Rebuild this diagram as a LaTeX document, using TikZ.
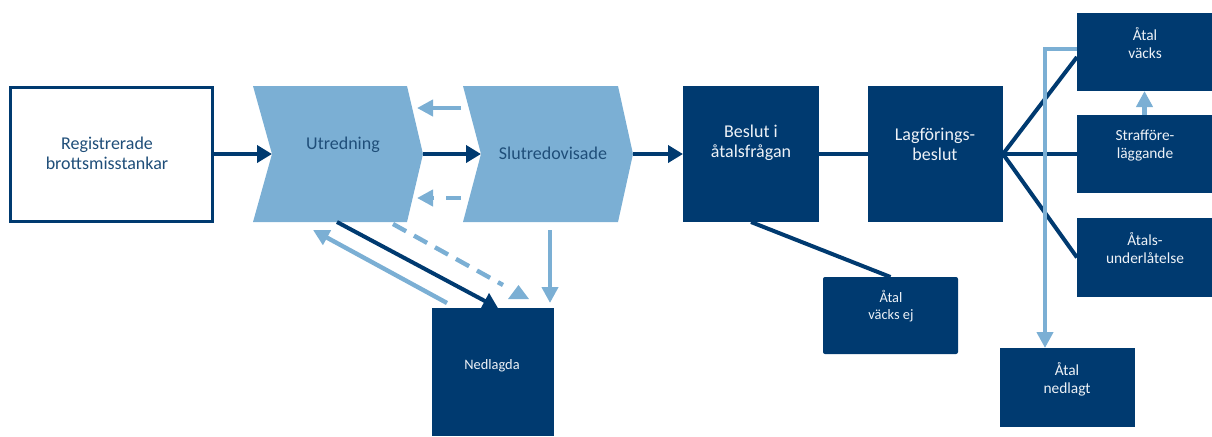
\documentclass[tikz,border=0pt]{standalone}
\usepackage{fontspec}
\setmainfont{Carlito}
\usetikzlibrary{arrows.meta}
\definecolor{dkblue}{HTML}{003A70}
\definecolor{ltblue}{HTML}{7BAFD4}
\definecolor{txtblue}{HTML}{1F4E79}
\definecolor{offwhite}{HTML}{EEF2F7}
\begin{document}
\begin{tikzpicture}[x=0.5pt,y=-0.5pt,
  dbox/.style={fill=dkblue, draw=none, inner sep=0pt, outer sep=0pt, anchor=north west},
  bigtext/.style={align=center, inner sep=0pt, font=\fontsize{9}{10}\selectfont},
  smalltext/.style={align=center, inner sep=0pt, font=\fontsize{7.7}{9}\selectfont, text=offwhite},
  tinytext/.style={align=center, inner sep=0pt, font=\fontsize{7.2}{8.6}\selectfont, text=offwhite},
  dline/.style={draw=dkblue, line width=2pt},
  darrow/.style={dline, -{Triangle[length=7.5pt,width=8.5pt]}},
  lline/.style={draw=ltblue, line width=2.2pt},
  larrow/.style={lline, -{Triangle[length=8pt,width=8pt]}},
  chev/.style={fill=ltblue}
]
\useasboundingbox (0,0) rectangle (1212,436);

% boxes
\node[draw=dkblue, line width=1.5pt, fill=white, inner sep=0pt, outer sep=0pt, anchor=north west,
      minimum width=101pt, minimum height=67pt] (reg) at (10.5,87) {};
\node[dbox, minimum width=68pt, minimum height=68pt] (beslut) at (683,86) {};
\node[dbox, minimum width=67.5pt, minimum height=68pt] (lagf) at (868,86) {};
\node[dbox, rounded corners=1pt, minimum width=67.5pt, minimum height=38.5pt] (vej) at (823,277) {};
\node[dbox, minimum width=61pt, minimum height=64pt] (nedl) at (432,308) {};
\node[dbox, minimum width=67.5pt, minimum height=39pt] (av) at (1077,13) {};
\node[dbox, minimum width=67.5pt, minimum height=39pt] (straff) at (1077,115) {};
\node[dbox, minimum width=67.5pt, minimum height=39.5pt] (aul) at (1077,218) {};
\node[dbox, minimum width=67.5pt, minimum height=39.5pt] (anl) at (1000,348) {};

% chevrons
\fill[chev] (253,86) -- (407,86) -- (423,154) -- (407,222) -- (253,222) -- (272,154) -- cycle;
\fill[chev] (463,86) -- (618,86) -- (633,154) -- (618,222) -- (463,222) -- (481,154) -- cycle;
\coordinate (utrL) at (272,154);
\coordinate (utrR) at (423,154);
\coordinate (sluL) at (481,154);
\coordinate (sluR) at (633,154);

% texts
\node[bigtext, text=txtblue] (treg) at (107,153) {Registrerade\\brottsmisstankar};
\node[bigtext, text=txtblue] (tutr) at (343,145) {Utredning};
\node[bigtext, text=txtblue] (tslu) at (553,153) {Slutredovisade};
\node[bigtext, text=offwhite] (tbes) at (751,143) {Beslut i\\åtalsfrågan};
\node[bigtext, text=offwhite] (tlag) at (935,144) {Lagförings-\\beslut};
\node[tinytext] (tvej) at (891,306.5) {Åtal\\väcks ej};
\node[tinytext] (tned) at (492,366) {Nedlagda};
\node[smalltext] (tav) at (1145,43) {Åtal\\väcks};
\node[smalltext] (tstr) at (1145,145.5) {Strafföre-\\läggande};
\node[smalltext] (taul) at (1145,248.5) {Åtals-\\underlåtelse};
\node[smalltext] (tanl) at (1067,379) {Åtal\\nedlagt};

% main flow
\draw[darrow] (reg.east) -- (utrL);
\draw[darrow] (utrR) -- (sluL);
\draw[darrow] (sluR) -- (beslut.west);
\draw[dline] (beslut.east) -- (lagf.west);
\draw[dline] (beslut.south) -- (vej.north);
\draw[dline] (lagf.east) -- ([yshift=-2.5pt]av.west);
\draw[dline] (lagf.east) -- (straff.west);
\draw[dline] (lagf.east) -- (aul.west);

% back arrows between chevrons
\coordinate (b1s) at (461,108);
\coordinate (b1e) at (417,108);
\coordinate (b2s) at (461,198);
\coordinate (b2e) at (417,198);
\draw[larrow] (b1s) -- (b1e);
\draw[larrow, dash pattern=on 7.5pt off 6pt] (b2s) -- (b2e);

% arrows to / from Nedlagda
\coordinate (u1) at (337,222);
\coordinate (u2) at (313,230);
\coordinate (u3) at (393,224);
\coordinate (n1) at (447,303);
\coordinate (n2) at (503,285);
\coordinate (s1) at (550,230);
\coordinate (s2) at (550,303);
\draw[larrow] (n1) -- (u2);
\draw[lline, dash pattern=on 7.5pt off 4.5pt] (u3) -- (n2);
\fill[ltblue] (518.5,285) -- (529,299) -- (508,299) -- cycle;
\draw[darrow] (u1) -- ([xshift=2.5pt]nedl.north);
\draw[larrow] (s1) -- (s2);

% right side light arrows
\draw[larrow] (straff.north) -- (av.south);
\draw[larrow] ([yshift=1.5pt]av.west) -| ([xshift=-11.25pt]anl.north);
\end{tikzpicture}
\end{document}
